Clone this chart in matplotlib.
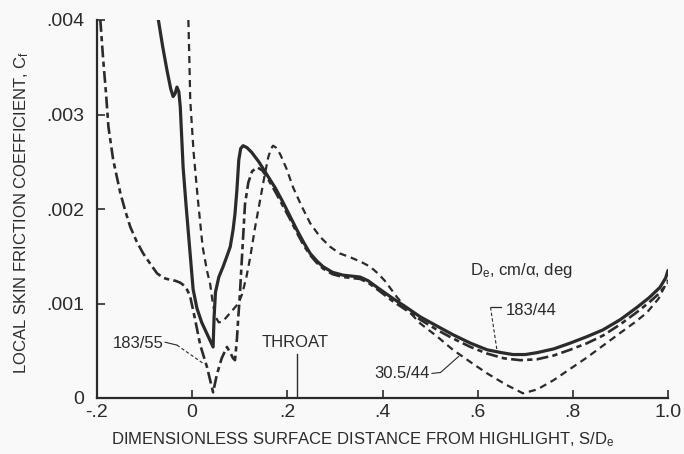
import matplotlib
matplotlib.use("Agg")
import matplotlib.pyplot as plt
import numpy as np

plt.rcParams['font.family'] = ['Liberation Sans Narrow', 'DejaVu Sans Condensed',
                               'Liberation Sans', 'DejaVu Sans']
plt.rcParams['mathtext.default'] = 'regular'

# ---- data (Cf values in units of 0.001) ----
# 183/44 (solid)
a_x = [-0.071, -0.062, -0.053, -0.045, -0.040, -0.036, -0.032, -0.028, -0.025, -0.019,
       -0.013, -0.008, -0.003, 0.002, 0.010, 0.020, 0.032, 0.044, 0.046, 0.049,
       0.056, 0.065, 0.073, 0.080, 0.086, 0.090, 0.094, 0.098, 0.102, 0.107,
       0.115, 0.125, 0.140, 0.155, 0.175, 0.191, 0.205, 0.220, 0.235, 0.248,
       0.262, 0.275, 0.295, 0.317, 0.335, 0.353, 0.370, 0.389, 0.420, 0.450,
       0.479, 0.515, 0.548, 0.585, 0.620, 0.650, 0.674, 0.700, 0.725, 0.760,
       0.794, 0.830, 0.863, 0.900, 0.935, 0.960, 0.983, 0.995, 1.000]
a_y = [4.00, 3.72, 3.47, 3.27, 3.19, 3.22, 3.29, 3.24, 3.08, 2.44,
       2.05, 1.75, 1.45, 1.15, 0.95, 0.80, 0.67, 0.54, 0.85, 1.12,
       1.28, 1.39, 1.50, 1.60, 1.78, 1.95, 2.20, 2.52, 2.64, 2.67,
       2.65, 2.60, 2.50, 2.38, 2.22, 2.07, 1.93, 1.78, 1.64, 1.53,
       1.45, 1.39, 1.33, 1.30, 1.29, 1.28, 1.24, 1.17, 1.06, 0.96,
       0.86, 0.76, 0.67, 0.58, 0.51, 0.48, 0.46, 0.46, 0.48, 0.52,
       0.58, 0.65, 0.72, 0.83, 0.96, 1.06, 1.17, 1.27, 1.35]

# 30.5/44 (short dash)
b_x = [-0.008, -0.006, -0.004, 0.003, 0.012, 0.022, 0.031, 0.038, 0.044, 0.050,
       0.056, 0.064, 0.073, 0.085, 0.097, 0.105, 0.114, 0.122, 0.132, 0.143,
       0.152, 0.160, 0.166, 0.170, 0.176, 0.185, 0.198, 0.212, 0.230, 0.248,
       0.268, 0.290, 0.310, 0.332, 0.355, 0.374, 0.390, 0.405, 0.430, 0.455,
       0.479, 0.515, 0.548, 0.585, 0.620, 0.660, 0.695, 0.725, 0.760, 0.795,
       0.830, 0.865, 0.900, 0.930, 0.955, 0.980, 1.000]
b_y = [4.00, 3.60, 3.15, 2.60, 2.10, 1.60, 1.35, 1.20, 0.98, 0.85,
       0.80, 0.81, 0.86, 0.93, 1.00, 1.10, 1.28, 1.49, 1.80, 2.10,
       2.35, 2.55, 2.64, 2.67, 2.65, 2.58, 2.43, 2.23, 2.03, 1.85,
       1.71, 1.60, 1.53, 1.49, 1.44, 1.39, 1.32, 1.24, 1.07, 0.92,
       0.79, 0.65, 0.51, 0.38, 0.26, 0.14, 0.05, 0.09, 0.19, 0.31,
       0.43, 0.56, 0.69, 0.80, 0.90, 1.05, 1.25]

# 183/55 (long dash - short dash)
c_x = [-0.193, -0.187, -0.181, -0.176, -0.166, -0.151, -0.140, -0.130, -0.117, -0.103,
       -0.088, -0.074, -0.060, -0.046, -0.035, -0.025, -0.017, -0.010, -0.004, 0.005,
       0.017, 0.031, 0.044, 0.052, 0.062, 0.073, 0.080, 0.086, 0.090, 0.094,
       0.097, 0.100, 0.104, 0.111, 0.118, 0.126, 0.137, 0.147, 0.157, 0.175,
       0.190, 0.205, 0.220, 0.235, 0.250, 0.262, 0.275, 0.295, 0.317, 0.335,
       0.353, 0.370, 0.389, 0.420, 0.450, 0.479, 0.515, 0.548, 0.585, 0.620,
       0.655, 0.690, 0.725, 0.760, 0.794, 0.830, 0.863, 0.900, 0.935, 0.960,
       0.980, 1.000]
c_y = [4.00, 3.58, 3.22, 2.87, 2.52, 2.17, 1.97, 1.81, 1.66, 1.53,
       1.42, 1.32, 1.27, 1.25, 1.24, 1.22, 1.19, 1.14, 1.07, 0.86,
       0.56, 0.33, 0.06, 0.25, 0.42, 0.54, 0.48, 0.42, 0.40, 0.62,
       0.86, 1.07, 1.43, 2.05, 2.28, 2.40, 2.44, 2.41, 2.34, 2.18,
       2.04, 1.90, 1.75, 1.61, 1.50, 1.43, 1.37, 1.31, 1.28, 1.27,
       1.26, 1.22, 1.15, 1.03, 0.93, 0.83, 0.72, 0.63, 0.54, 0.47,
       0.42, 0.40, 0.41, 0.45, 0.51, 0.58, 0.66, 0.78, 0.91, 1.01,
       1.10, 1.22]

x_ticks = [-0.2, 0, 0.2, 0.4, 0.6, 0.8, 1.0]
x_tick_labels = ['-.2', '0', '.2', '.4', '.6', '.8', '1.0']
y_ticks = [0, 0.001, 0.002, 0.003, 0.004]
y_tick_labels = ['0', '.001', '.002', '.003', '.004']

ink = '#2b2b2b'
bg = '#f9f9f9'

fig = plt.figure(figsize=(6.84, 4.54), dpi=100, facecolor=bg)
ax = fig.add_axes([97/684, 56/454, 571/684, 378/454], facecolor=bg)

s = 0.001
ax.plot(a_x, np.array(a_y) * s, color=ink, lw=2.3, solid_capstyle='round')
ax.plot(b_x, np.array(b_y) * s, color=ink, lw=1.6, dashes=(3.2, 2.2))
ax.plot(c_x, np.array(c_y) * s, color=ink, lw=1.9, dashes=(4.5, 1.6, 2.0, 1.6))

ax.set_xlim(-0.2, 1.0)
ax.set_ylim(0, 0.004)
for sp in ['top', 'right']:
    ax.spines[sp].set_visible(False)
for sp in ['left', 'bottom']:
    ax.spines[sp].set_color(ink)
    ax.spines[sp].set_linewidth(1.6)

ax.set_xticks(x_ticks)
ax.set_xticklabels(x_tick_labels)
ax.set_yticks(y_ticks)
ax.set_yticklabels(y_tick_labels)
ax.tick_params(axis='both', direction='in', length=6, width=1.2, color=ink,
               labelcolor=ink, labelsize=14)
ax.tick_params(axis='x', pad=4)
ax.tick_params(axis='y', pad=9)

ax.set_xlabel('DIMENSIONLESS SURFACE DISTANCE FROM HIGHLIGHT, S/D$_e$',
              fontsize=12, color=ink)
ax.xaxis.set_label_coords((363 - 97) / 571, -0.085)
ax.set_ylabel('LOCAL SKIN FRICTION COEFFICIENT, C$_f$', fontsize=12, color=ink)
ax.yaxis.set_label_coords(-0.116, 0.49)

# annotations
tfs = 12
ax.text(-0.061, 0.00058, '183/55', ha='right', va='center', fontsize=tfs, color=ink)
ax.plot([-0.057, -0.032], [0.00059, 0.00056], color=ink, lw=0.8)
ax.plot([-0.032, 0.022], [0.00056, 0.00037], color=ink, lw=0.8, dashes=(3, 2))

ax.text(0.216, 0.00059, 'THROAT', ha='center', va='center', fontsize=tfs, color=ink)
ax.plot([0.221, 0.221], [0, 0.00047], color=ink, lw=1.0)

ax.text(0.584, 0.00135, 'D$_e$, cm/\u03b1, deg', ha='left', va='center', fontsize=tfs, color=ink)
ax.text(0.658, 0.00093, '183/44', ha='left', va='center', fontsize=tfs, color=ink)
ax.plot([0.648, 0.627], [0.00096, 0.00096], color=ink, lw=0.9)
ax.plot([0.627, 0.641], [0.00096, 0.00049], color=ink, lw=0.8, dashes=(3, 2))

ax.text(0.500, 0.00026, '30.5/44', ha='right', va='center', fontsize=tfs, color=ink)
ax.plot([0.504, 0.522, 0.560], [0.00026, 0.00027, 0.00044], color=ink, lw=0.8)

fig.savefig('out.png', dpi=100, facecolor=bg)
